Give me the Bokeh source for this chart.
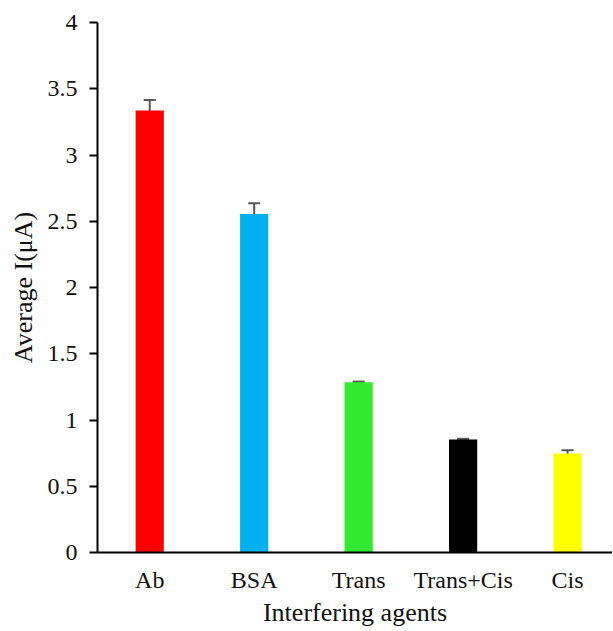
from bokeh.plotting import figure
from bokeh.models import Range1d, FixedTicker, CustomJSTickFormatter, ColumnDataSource, Whisker, TeeHead
from bokeh.embed import file_html
from bokeh.resources import INLINE

categories = ["Ab", "BSA", "Trans", "Trans+Cis", "Cis"]
values = [3.335, 2.555, 1.285, 0.853, 0.748]
errors = [0.08, 0.08, 0.005, 0.005, 0.024]
colors = ["#FF0000", "#00B0F0", "#33EA33", "#000000", "#FFFF00"]
y_ticks = [0, 0.5, 1, 1.5, 2, 2.5, 3, 3.5, 4]

xs = [i + 0.5 for i in range(len(categories))]
src = ColumnDataSource(dict(
    x=xs, top=values, color=colors,
    upper=[v + e for v, e in zip(values, errors)],
    lower=[v - e for v, e in zip(values, errors)],
))

FONT = "Liberation Serif"

p = figure(width=612, height=630, output_backend="svg", toolbar_location=None,
           x_range=Range1d(0, 4.93), y_range=Range1d(0, 4),
           min_border_left=97, min_border_right=0, min_border_top=22, min_border_bottom=78)
p.outline_line_color = None
p.xgrid.grid_line_color = None
p.ygrid.grid_line_color = None
p.background_fill_color = "white"

p.vbar(x="x", top="top", bottom=0, width=0.27, color="color", line_color=None, source=src)

w = Whisker(base="x", upper="upper", lower="lower", source=src,
            line_color="#595959", line_width=2,
            upper_head=TeeHead(size=12, line_color="#595959", line_width=2),
            lower_head=TeeHead(size=12, line_color="#595959", line_width=2))
p.add_layout(w)

# x axis
xa = p.xaxis[0]
xa.ticker = FixedTicker(ticks=xs)
xa.major_label_overrides = {x: c for x, c in zip(xs, categories)}
xa.major_tick_line_color = None
xa.minor_tick_line_color = None
xa.axis_line_width = 2
xa.axis_line_color = "black"
xa.major_label_text_font = FONT
xa.major_label_text_font_size = "24px"
xa.major_label_text_color = "#111111"
xa.major_label_standoff = 8
xa.axis_label = "Interfering agents"
xa.axis_label_text_font = FONT
xa.axis_label_text_font_size = "26px"
xa.axis_label_text_font_style = "normal"
xa.axis_label_text_color = "#111111"
xa.axis_label_standoff = 2

# y axis
ya = p.yaxis[0]
ya.ticker = FixedTicker(ticks=y_ticks)
ya.formatter = CustomJSTickFormatter(code="return tick.toString();")
ya.major_tick_out = 8
ya.major_tick_in = 0
ya.major_tick_line_width = 2
ya.minor_tick_line_color = None
ya.axis_line_width = 2
ya.axis_line_color = "black"
ya.major_label_text_font = FONT
ya.major_label_text_font_size = "24px"
ya.major_label_text_color = "#111111"
ya.major_label_standoff = 12
ya.axis_label = "Average I(μA)"
ya.axis_label_text_font = FONT
ya.axis_label_text_font_size = "26px"
ya.axis_label_text_font_style = "normal"
ya.axis_label_text_color = "#111111"
ya.axis_label_standoff = 7

open("out.html", "w").write(file_html(p, INLINE))
